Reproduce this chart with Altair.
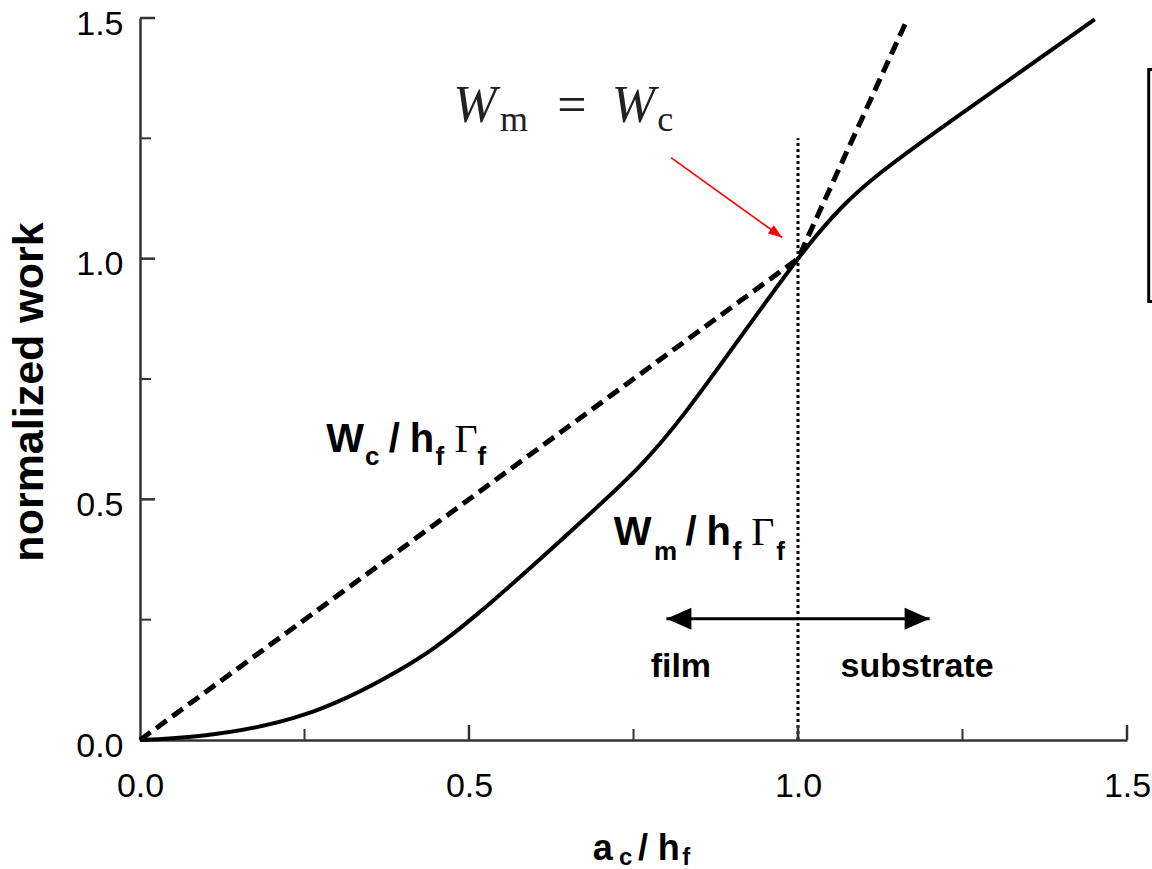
import math
import altair as alt
import pandas as pd

# ---------------- data ----------------
solid_x = [0.0, 0.10, 0.248, 0.391, 0.513, 0.690, 0.826, 1.0, 1.126, 1.279, 1.451]
solid_y = [0.0, 0.010, 0.052, 0.143, 0.262, 0.478, 0.676, 1.0, 1.179, 1.331, 1.497]

dashed_x = [0.0, 1.0, 1.167]
dashed_y = [0.0, 1.0, 1.5]

dotted_x = [1.0, 1.0]
dotted_y = [0.0, 1.25]

tick_major = [0.5, 1.0, 1.5]
tick_minor = [0.25, 0.75, 1.25]
tick_labels = [0.0, 0.5, 1.0, 1.5]

# double arrow film / substrate
arrow_x = [0.80, 1.20]
arrow_y = [0.252, 0.252]
region_text = ["film", "substrate"]
region_x = [0.822, 1.181]
region_y = [0.131, 0.131]

# red arrow pointing to W_m = W_c
red_x = [0.807, 0.976]
red_y = [1.210, 1.044]

# cut-off box at the right edge
box_x, box_x2, box_y, box_y2 = [1.533], [1.70], [0.911], [1.393]

# composed labels (pieces)
main_text = ["W", "/", "h", "W", "/", "h"]
main_x = [0.283, 0.378, 0.410, 0.720, 0.829, 0.861]
main_y = [0.598, 0.598, 0.598, 0.405, 0.405, 0.405]
sub_text = ["c", "f", "f", "m", "f", "f"]
sub_x = [0.342, 0.449, 0.513, 0.781, 0.901, 0.967]
sub_y = [0.571, 0.571, 0.571, 0.374, 0.374, 0.374]
gamma_text = ["Γ", "Γ"]
gamma_x = [0.478, 0.929]
gamma_y = [0.598, 0.405]

eq_it_text = ["W", "W"]
eq_it_x = [0.476, 0.717]
eq_it_y = [1.284, 1.284]
eq_rm_text = ["="]
eq_rm_x = [0.634]
eq_rm_y = [1.284]
eq_sub_text = ["m", "c"]
eq_sub_x = [0.547, 0.786]
eq_sub_y = [1.265, 1.265]

xt_main_text = ["a", "/", "h"]
xt_main_x = [0.688, 0.757, 0.787]
xt_main_y = [-0.249, -0.249, -0.249]
xt_sub_text = ["c", "f"]
xt_sub_x = [0.728, 0.824]
xt_sub_y = [-0.260, -0.260]

y_title = "normalized work"

# ---------------- layout ----------------
W, H = 987, 722
XD = [0, 1.5]
YD = [0, 1.5]
SANS = "Liberation Sans"
SERIF = "Liberation Serif"

xs = alt.Scale(domain=XD, nice=False, zero=False)
ys = alt.Scale(domain=YD, nice=False, zero=False)

x_axis = alt.Axis(values=tick_labels, format=".1f", title=None, ticks=False, tickSize=0,
                  grid=False, domainColor="#333333", domainWidth=2.5,
                  labelFont=SANS, labelFontSize=34, labelColor="black",
                  labelPadding=29, labelFlush=False, labelOverlap=False)
y_axis = alt.Axis(values=tick_labels, format=".1f", title=None, ticks=False, tickSize=0,
                  grid=False, domainColor="#333333", domainWidth=2.5,
                  labelFont=SANS, labelFontSize=34, labelColor="black",
                  labelPadding=17, labelOffset=6, labelFlush=False, labelOverlap=False)


def df(**kw):
    return pd.DataFrame(kw)


def X(field="x"):
    return alt.X(f"{field}:Q", scale=xs, axis=x_axis)


def Y(field="y"):
    return alt.Y(f"{field}:Q", scale=ys, axis=y_axis)


solid = alt.Chart(df(x=solid_x, y=solid_y)).mark_line(
    color="black", strokeWidth=4, interpolate="natural"
).encode(x=X(), y=Y())

dashed = alt.Chart(df(x=dashed_x, y=dashed_y)).mark_line(
    color="black", strokeWidth=5, strokeDash=[13, 7]
).encode(x=X(), y=Y())

dotted = alt.Chart(df(x=dotted_x, y=dotted_y)).mark_line(
    color="black", strokeWidth=3, strokeDash=[3, 3]
).encode(x=X(), y=Y())

# inward ticks
xt_major = alt.Chart(df(x=tick_major)).mark_rule(color="#333333", strokeWidth=2.5).encode(
    x=X(), y=alt.value(H), y2=alt.value(H - 15))
xt_minor = alt.Chart(df(x=tick_minor)).mark_rule(color="#333333", strokeWidth=2).encode(
    x=X(), y=alt.value(H), y2=alt.value(H - 11))
yt_major = alt.Chart(df(y=tick_major)).mark_rule(color="#333333", strokeWidth=2.5).encode(
    y=Y(), x=alt.value(0), x2=alt.value(15))
yt_minor = alt.Chart(df(y=tick_minor)).mark_rule(color="#333333", strokeWidth=2).encode(
    y=Y(), x=alt.value(0), x2=alt.value(11))

# black double arrow
arrow_line = alt.Chart(df(x=arrow_x, y=arrow_y)).mark_line(
    color="black", strokeWidth=3).encode(x=X(), y=Y())
HEAD_BLACK = "M0,0 L-1,-0.44 L-1,0.44 Z"
arrow_heads = alt.Chart(df(x=arrow_x, y=arrow_y, a=[180, 0])).mark_point(
    shape=HEAD_BLACK, size=2500, filled=True, color="black", opacity=1, strokeWidth=0
).encode(x=X(), y=Y(), angle=alt.Angle("a:Q", scale=None))

# red arrow
red_line = alt.Chart(df(x=red_x, y=red_y)).mark_line(
    color="#ff0000", strokeWidth=1.6).encode(x=X(), y=Y())
ang = math.degrees(math.atan2(-(red_y[1] - red_y[0]) * H / 1.5, (red_x[1] - red_x[0]) * W / 1.5))
HEAD_RED = "M0,0 L-1,-0.36 L-1,0.36 Z"
red_head = alt.Chart(df(x=[red_x[1]], y=[red_y[1]])).mark_point(
    shape=HEAD_RED, size=784, filled=True, color="#ff0000", opacity=1, strokeWidth=0,
    angle=ang % 360
).encode(x=X(), y=Y())

box = alt.Chart(df(x=box_x, x2=box_x2, y=box_y, y2=box_y2)).mark_rect(
    fill=None, stroke="black", strokeWidth=3
).encode(x=X(), x2="x2:Q", y=Y(), y2="y2:Q")


def text_layer(texts, xv, yv, **style):
    base = dict(align="left", baseline="alphabetic", color="black")
    base.update(style)
    return alt.Chart(df(x=xv, y=yv, t=texts)).mark_text(**base).encode(
        x=X(), y=Y(), text="t:N")


t_main = text_layer(main_text, main_x, main_y, font=SANS, fontSize=40, fontWeight="bold")
t_sub = text_layer(sub_text, sub_x, sub_y, font=SANS, fontSize=26, fontWeight="bold")
t_gamma = text_layer(gamma_text, gamma_x, gamma_y, font=SERIF, fontSize=40)
t_region = text_layer(region_text, region_x, region_y, font=SANS, fontSize=34,
                      fontWeight="bold", align="center")
t_eq_it = text_layer(eq_it_text, eq_it_x, eq_it_y, font=SERIF, fontSize=52, fontStyle="italic",
                     color="#222222")
t_eq_rm = text_layer(eq_rm_text, eq_rm_x, eq_rm_y, font=SERIF, fontSize=52, color="#222222")
t_eq_sub = text_layer(eq_sub_text, eq_sub_x, eq_sub_y, font=SERIF, fontSize=36, color="#222222")
t_xt_main = text_layer(xt_main_text, xt_main_x, xt_main_y, font=SANS, fontSize=36,
                       fontWeight="bold")
t_xt_sub = text_layer(xt_sub_text, xt_sub_x, xt_sub_y, font=SANS, fontSize=24,
                      fontWeight="bold")

t_ytitle = alt.Chart(df(t=[y_title])).mark_text(
    angle=270, align="center", baseline="alphabetic", font=SANS, fontSize=43,
    fontWeight="bold", color="black"
).encode(x=alt.value(-97), y=alt.value(374), text="t:N")

chart = alt.layer(
    solid, dashed, dotted, xt_major, xt_minor, yt_major, yt_minor,
    arrow_line, arrow_heads, red_line, red_head, box,
    t_main, t_sub, t_gamma, t_region, t_eq_it, t_eq_rm, t_eq_sub,
    t_xt_main, t_xt_sub, t_ytitle,
).properties(
    width=W, height=H,
    autosize=alt.AutoSizeParams(type="none"),
    padding={"left": 140, "top": 18, "right": 25, "bottom": 129},
    background="white",
).configure_view(stroke=None)

chart.save("out.html", embed_options={"renderer": "svg", "actions": False})
